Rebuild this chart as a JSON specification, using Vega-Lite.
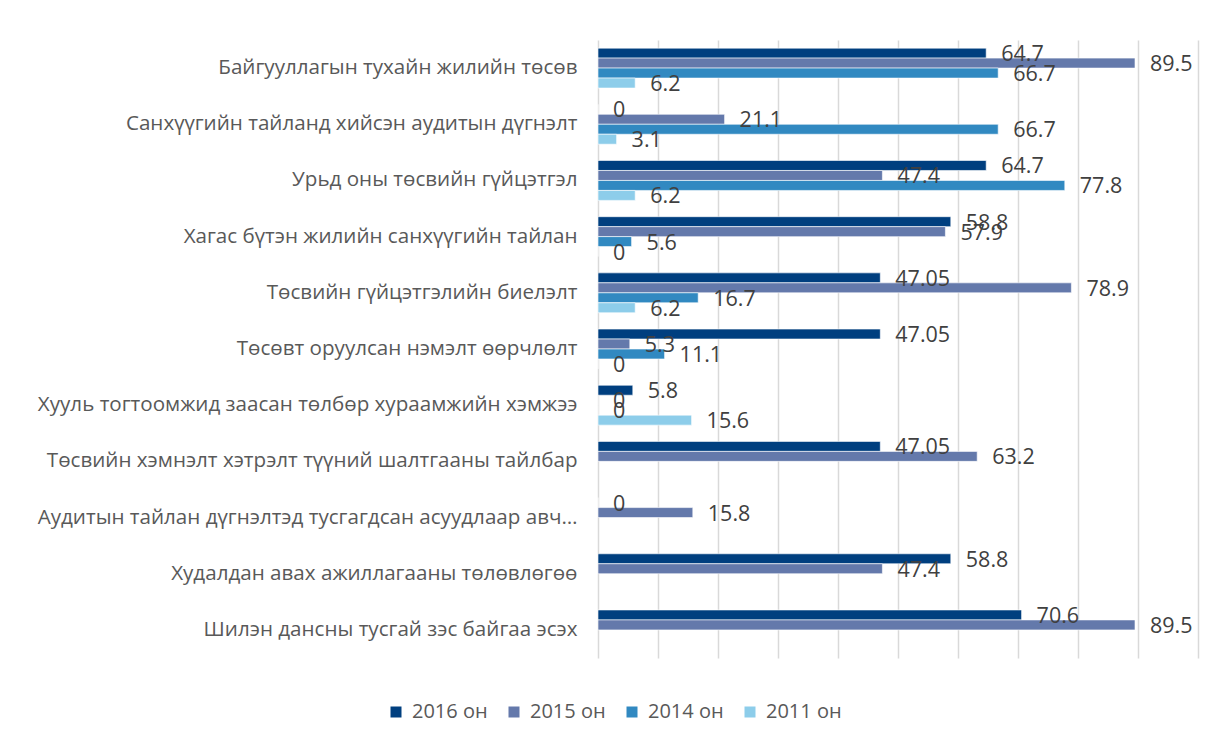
{
  "$schema": "https://vega.github.io/schema/vega-lite/v6.json",
  "width": 600,
  "height": 618,
  "autosize": {"type": "none"},
  "padding": {"left": 598, "top": 40, "right": 27, "bottom": 82},
  "background": "white",
  "config": {
    "font": "Open Sans",
    "view": {"stroke": null},
    "axis": {"labelColor": "#595959", "labelFont": "Open Sans"}
  },
  "data": {
    "values": [
      {"cat": "Байгууллагын тухайн жилийн төсөв", "year": "2016 он", "v": 64.7},
      {"cat": "Байгууллагын тухайн жилийн төсөв", "year": "2015 он", "v": 89.5},
      {"cat": "Байгууллагын тухайн жилийн төсөв", "year": "2014 он", "v": 66.7},
      {"cat": "Байгууллагын тухайн жилийн төсөв", "year": "2011 он", "v": 6.2},
      {"cat": "Санхүүгийн тайланд хийсэн аудитын дүгнэлт", "year": "2016 он", "v": 0},
      {"cat": "Санхүүгийн тайланд хийсэн аудитын дүгнэлт", "year": "2015 он", "v": 21.1},
      {"cat": "Санхүүгийн тайланд хийсэн аудитын дүгнэлт", "year": "2014 он", "v": 66.7},
      {"cat": "Санхүүгийн тайланд хийсэн аудитын дүгнэлт", "year": "2011 он", "v": 3.1},
      {"cat": "Урьд оны төсвийн гүйцэтгэл", "year": "2016 он", "v": 64.7},
      {"cat": "Урьд оны төсвийн гүйцэтгэл", "year": "2015 он", "v": 47.4},
      {"cat": "Урьд оны төсвийн гүйцэтгэл", "year": "2014 он", "v": 77.8},
      {"cat": "Урьд оны төсвийн гүйцэтгэл", "year": "2011 он", "v": 6.2},
      {"cat": "Хагас бүтэн жилийн санхүүгийн тайлан", "year": "2016 он", "v": 58.8},
      {"cat": "Хагас бүтэн жилийн санхүүгийн тайлан", "year": "2015 он", "v": 57.9},
      {"cat": "Хагас бүтэн жилийн санхүүгийн тайлан", "year": "2014 он", "v": 5.6},
      {"cat": "Хагас бүтэн жилийн санхүүгийн тайлан", "year": "2011 он", "v": 0},
      {"cat": "Төсвийн гүйцэтгэлийн биелэлт", "year": "2016 он", "v": 47.05},
      {"cat": "Төсвийн гүйцэтгэлийн биелэлт", "year": "2015 он", "v": 78.9},
      {"cat": "Төсвийн гүйцэтгэлийн биелэлт", "year": "2014 он", "v": 16.7},
      {"cat": "Төсвийн гүйцэтгэлийн биелэлт", "year": "2011 он", "v": 6.2},
      {"cat": "Төсөвт оруулсан нэмэлт өөрчлөлт", "year": "2016 он", "v": 47.05},
      {"cat": "Төсөвт оруулсан нэмэлт өөрчлөлт", "year": "2015 он", "v": 5.3},
      {"cat": "Төсөвт оруулсан нэмэлт өөрчлөлт", "year": "2014 он", "v": 11.1},
      {"cat": "Төсөвт оруулсан нэмэлт өөрчлөлт", "year": "2011 он", "v": 0},
      {"cat": "Хууль тогтоомжид заасан төлбөр хураамжийн хэмжээ", "year": "2016 он", "v": 5.8},
      {"cat": "Хууль тогтоомжид заасан төлбөр хураамжийн хэмжээ", "year": "2015 он", "v": 0},
      {"cat": "Хууль тогтоомжид заасан төлбөр хураамжийн хэмжээ", "year": "2014 он", "v": 0},
      {"cat": "Хууль тогтоомжид заасан төлбөр хураамжийн хэмжээ", "year": "2011 он", "v": 15.6},
      {"cat": "Төсвийн хэмнэлт хэтрэлт түүний шалтгааны тайлбар", "year": "2016 он", "v": 47.05},
      {"cat": "Төсвийн хэмнэлт хэтрэлт түүний шалтгааны тайлбар", "year": "2015 он", "v": 63.2},
      {"cat": "Аудитын тайлан дүгнэлтэд тусгагдсан асуудлаар авч…", "year": "2016 он", "v": 0},
      {"cat": "Аудитын тайлан дүгнэлтэд тусгагдсан асуудлаар авч…", "year": "2015 он", "v": 15.8},
      {"cat": "Худалдан авах ажиллагааны төлөвлөгөө", "year": "2016 он", "v": 58.8},
      {"cat": "Худалдан авах ажиллагааны төлөвлөгөө", "year": "2015 он", "v": 47.4},
      {"cat": "Шилэн дансны тусгай зэс байгаа эсэх", "year": "2016 он", "v": 70.6},
      {"cat": "Шилэн дансны тусгай зэс байгаа эсэх", "year": "2015 он", "v": 89.5}
    ]
  },
  "encoding": {
    "y": {
      "field": "cat",
      "type": "nominal",
      "sort": null,
      "scale": {"paddingInner": 0.29, "paddingOuter": 0.145},
      "axis": {
        "title": null,
        "ticks": false,
        "domain": false,
        "labelFontSize": 20.6,
        "labelPadding": 21,
        "labelLimit": 600
      }
    },
    "yOffset": {
      "field": "year",
      "type": "nominal",
      "sort": ["2016 он", "2015 он", "2014 он", "2011 он"],
      "scale": {"domain": ["2016 он", "2015 он", "2014 он", "2011 он"], "paddingInner": 0, "paddingOuter": 0}
    },
    "x": {
      "field": "v",
      "type": "quantitative",
      "scale": {"domain": [0, 100], "nice": false},
      "axis": {
        "title": null,
        "labels": false,
        "ticks": false,
        "domain": false,
        "tickCount": 10,
        "grid": true,
        "gridColor": "#d9d9d9",
        "gridWidth": 1.5
      }
    }
  },
  "layer": [
    {
      "mark": {"type": "bar", "stroke": "#ffffff", "strokeWidth": 0.6},
      "encoding": {
        "color": {
          "field": "year",
          "type": "nominal",
          "scale": {
            "domain": ["2016 он", "2015 он", "2014 он", "2011 он"],
            "range": ["#003f7f", "#6479ab", "#3189c1", "#8dcdea"]
          },
          "legend": {
            "title": null,
            "orient": "none",
            "direction": "horizontal",
            "legendX": -212,
            "legendY": 662,
            "symbolType": "square",
            "symbolSize": 121,
            "symbolStrokeWidth": 0,
            "labelFontSize": 20,
            "labelColor": "#595959",
            "labelFont": "Open Sans",
            "labelOffset": 6,
            "columnPadding": 16
          }
        }
      }
    },
    {
      "mark": {
        "type": "text",
        "align": "left",
        "baseline": "middle",
        "dx": 15,
        "dy": 2,
        "fontSize": 21.5,
        "color": "#404040",
        "font": "Open Sans"
      },
      "encoding": {
        "text": {"field": "v", "type": "quantitative", "format": ".4~f"}
      }
    }
  ]
}
